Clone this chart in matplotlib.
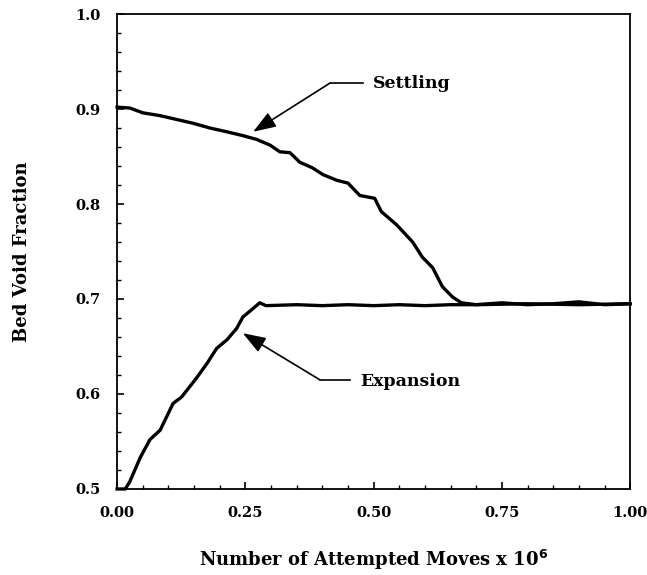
import matplotlib
matplotlib.use("Agg")
import matplotlib.pyplot as plt
from matplotlib.ticker import MultipleLocator

# Settling curve
settle_x = [0.0, 0.025, 0.05, 0.084, 0.116, 0.148, 0.181, 0.214, 0.245, 0.272,
            0.298, 0.317, 0.337, 0.356, 0.381, 0.401, 0.428, 0.45, 0.473, 0.502,
            0.515, 0.545, 0.576, 0.595, 0.615, 0.634, 0.654, 0.671, 0.70, 0.75,
            0.80, 0.85, 0.90, 0.95, 1.0]
settle_y = [0.902, 0.901, 0.896, 0.893, 0.889, 0.885, 0.880, 0.876, 0.872, 0.868,
            0.862, 0.855, 0.854, 0.844, 0.838, 0.831, 0.825, 0.822, 0.809, 0.806,
            0.792, 0.778, 0.760, 0.744, 0.733, 0.713, 0.702, 0.696, 0.694, 0.696,
            0.694, 0.695, 0.697, 0.694, 0.695]

# Expansion curve
expand_x = [0.0, 0.016, 0.025, 0.045, 0.064, 0.084, 0.109, 0.126, 0.155, 0.175,
            0.194, 0.214, 0.233, 0.245, 0.265, 0.278, 0.29, 0.35, 0.40, 0.45,
            0.5, 0.55, 0.6, 0.65, 0.7, 0.8, 0.9, 1.0]
expand_y = [0.5, 0.5, 0.508, 0.533, 0.552, 0.562, 0.590, 0.597, 0.617, 0.632,
            0.648, 0.657, 0.669, 0.681, 0.690, 0.696, 0.693, 0.694, 0.693, 0.694,
            0.693, 0.694, 0.693, 0.694, 0.694, 0.695, 0.694, 0.695]

xticks = [0.0, 0.25, 0.5, 0.75, 1.0]
xticklabels = ["0.00", "0.25", "0.50", "0.75", "1.00"]
yticks = [0.5, 0.6, 0.7, 0.8, 0.9, 1.0]
yticklabels = ["0.5", "0.6", "0.7", "0.8", "0.9", "1.0"]

plt.rcParams["font.family"] = "DejaVu Serif"
plt.rcParams["font.weight"] = "bold"

fig = plt.figure(figsize=(6.47, 5.75), dpi=100)
ax = fig.add_axes([0.181, 0.1496, 0.793, 0.826])

ax.plot(settle_x, settle_y, color="black", lw=2.4, clip_on=False, solid_joinstyle="round")
ax.plot(expand_x, expand_y, color="black", lw=2.4, clip_on=False, solid_joinstyle="round")

ax.set_xlim(0, 1)
ax.set_ylim(0.5, 1.0)
ax.set_xticks(xticks)
ax.set_xticklabels(xticklabels, fontsize=10.5, fontweight="bold")
ax.set_yticks(yticks)
ax.set_yticklabels(yticklabels, fontsize=10.5, fontweight="bold")
ax.xaxis.set_minor_locator(MultipleLocator(0.05))
ax.yaxis.set_minor_locator(MultipleLocator(0.02))
ax.tick_params(which="major", direction="in", length=5, width=1.2, pad=12)
ax.tick_params(which="minor", direction="in", length=3, width=1.0)
for sp in ax.spines.values():
    sp.set_linewidth(1.3)

ax.set_xlabel("Number of Attempted Moves x 10$^{6}$", fontsize=13, fontweight="bold", labelpad=20)
ax.set_ylabel("Bed Void Fraction", fontsize=13, fontweight="bold", labelpad=32)

# annotations
arrow = dict(arrowstyle="-|>,head_length=0.7,head_width=0.25", color="black",
             lw=1.2, mutation_scale=20, shrinkA=0, shrinkB=0)
ax.annotate("", xy=(0.265, 0.876), xytext=(0.414, 0.927), arrowprops=arrow)
ax.plot([0.414, 0.479], [0.927, 0.927], color="black", lw=1.2)
ax.text(0.498, 0.927, "Settling", fontsize=12.5, fontweight="bold", va="center", ha="left")

ax.annotate("", xy=(0.245, 0.664), xytext=(0.395, 0.615), arrowprops=arrow)
ax.plot([0.395, 0.453], [0.615, 0.615], color="black", lw=1.2)
ax.text(0.473, 0.613, "Expansion", fontsize=12.5, fontweight="bold", va="center", ha="left")

fig.savefig("out.png", dpi=100)
